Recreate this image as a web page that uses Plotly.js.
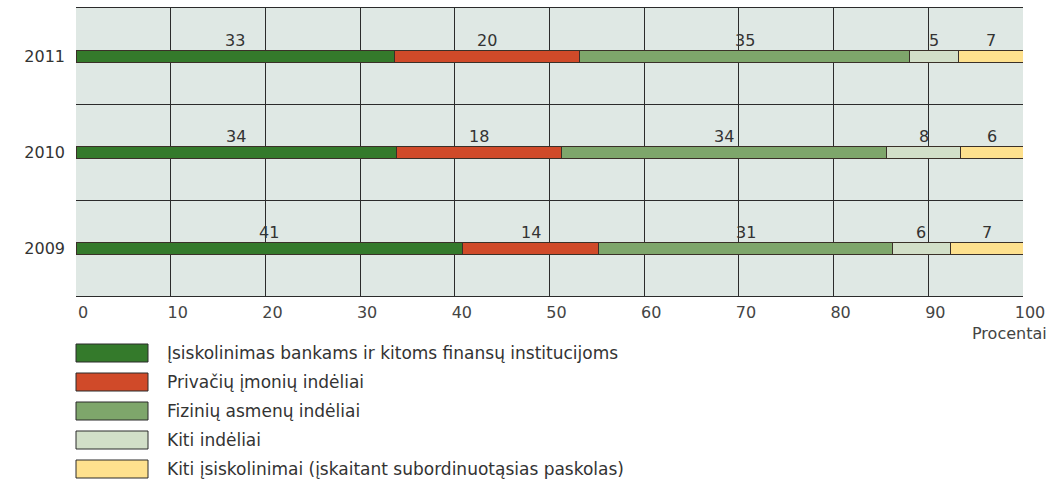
<!DOCTYPE html>
<html>
<head>
<meta charset="utf-8">
<script src="https://cdn.plot.ly/plotly-3.0.1.min.js"></script>
<style>
html,body{margin:0;padding:0;background:#fff;}
#chart{width:1064px;height:479px;}
</style>
</head>
<body>
<div id="chart"></div>
<script>
// ---- data ----
const years = ['2009', '2010', '2011'];
const seriesNames = [
  'Įsiskolinimas bankams ir kitoms finansų institucijoms',
  'Privačių įmonių indėliai',
  'Fizinių asmenų indėliai',
  'Kiti indėliai',
  'Kiti įsiskolinimai (įskaitant subordinuotąsias paskolas)'
];
// shares (percent), order: 2009, 2010, 2011
const banks      = [40.8, 33.8, 33.6];
const companies  = [14.4, 17.5, 19.6];
const persons    = [31.0, 34.3, 34.8];
const otherDep   = [6.1, 7.8, 5.2];
const otherLiab  = [7.7, 6.6, 6.8];
// printed value labels
const banksLbl     = ['41', '34', '33'];
const companiesLbl = ['14', '18', '20'];
const personsLbl   = ['31', '34', '35'];
const otherDepLbl  = ['6', '8', '5'];
const otherLiabLbl = ['7', '6', '7'];
const xTicks = [0, 10, 20, 30, 40, 50, 60, 70, 80, 90, 100];
const xTitle = 'Procentai';

// ---- styling ----
const colors = ['#347a2b', '#d04a29', '#7ea66b', '#d2dfc8', '#fee18e'];
const FONT = 'DejaVu Sans, Arial, sans-serif';
const series = [banks, companies, persons, otherDep, otherLiab];
const labels = [banksLbl, companiesLbl, personsLbl, otherDepLbl, otherLiabLbl];

const W = 1064, H = 479;
const M = {l: 76, r: 41, t: 8, b: 183};
const plotW = W - M.l - M.r, plotH = H - M.t - M.b;

const traces = series.map((vals, i) => ({
  type: 'bar',
  orientation: 'h',
  name: seriesNames[i],
  y: years,
  x: vals,
  width: 0.125,
  cliponaxis: false,
  marker: {color: colors[i], line: {color: '#3a3028', width: 1}},
  hoverinfo: 'skip',
  showlegend: false
}));

// value labels above each segment (y given as category index)
const annotations = [];
years.forEach((yr, j) => {
  let cum = 0;
  series.forEach((vals, i) => {
    annotations.push({
      x: cum + vals[j] / 2, y: j, xref: 'x', yref: 'y',
      text: labels[i][j], showarrow: false,
      yshift: 16, font: {family: FONT, size: 16, color: '#333'}
    });
    cum += vals[j];
  });
});

const pxToPaperY = py => (M.t + plotH - py) / plotH;
const pxToPaperX = px => (px - M.l) / plotW;

// axis title at the right end
annotations.push({
  xref: 'paper', yref: 'paper', x: 1, y: pxToPaperY(333),
  xanchor: 'right', yanchor: 'middle', xshift: 26,
  text: xTitle, showarrow: false, font: {family: FONT, size: 16, color: '#444'}
});

// custom legend (large swatches)
const shapes = [];
seriesNames.forEach((nm, i) => {
  const top = 344 + i * 29, h = 18;
  shapes.push({
    type: 'rect', xref: 'paper', yref: 'paper',
    x0: pxToPaperX(76), x1: pxToPaperX(148),
    y0: pxToPaperY(top + h), y1: pxToPaperY(top),
    fillcolor: colors[i], line: {color: '#2a2a2a', width: 1}
  });
  annotations.push({
    xref: 'paper', yref: 'paper', x: pxToPaperX(165), y: pxToPaperY(top + h / 2),
    xanchor: 'left', yanchor: 'middle', text: nm, showarrow: false,
    font: {family: FONT, size: 17, color: '#333'}
  });
});

const layout = {
  width: W, height: H,
  margin: M,
  paper_bgcolor: '#ffffff',
  plot_bgcolor: '#dfe8e4',
  barmode: 'stack',
  showlegend: false,
  xaxis: {
    range: [0, 100],
    tickvals: xTicks,
    ticktext: xTicks.map(String),
    showgrid: true, gridcolor: '#2b2b2b', gridwidth: 1,
    zeroline: false,
    showline: true, mirror: true, linecolor: '#2b2b2b', linewidth: 1,
    ticks: '', ticklabelstandoff: 2, ticklabelshift: 7,
    tickfont: {family: FONT, size: 16, color: '#444'},
    fixedrange: true
  },
  yaxis: {
    type: 'category',
    categoryorder: 'array', categoryarray: years,
    range: [-0.5, years.length - 0.5],
    autorange: false,
    tickson: 'boundaries',
    showgrid: true, gridcolor: '#2b2b2b', gridwidth: 1,
    zeroline: false, showline: false,
    ticks: '', ticklabelstandoff: 10,
    tickfont: {family: FONT, size: 16, color: '#333'},
    fixedrange: true
  },
  annotations: annotations,
  shapes: shapes
};

Plotly.newPlot('chart', traces, layout, {displayModeBar: false, staticPlot: true});
</script>
</body>
</html>
